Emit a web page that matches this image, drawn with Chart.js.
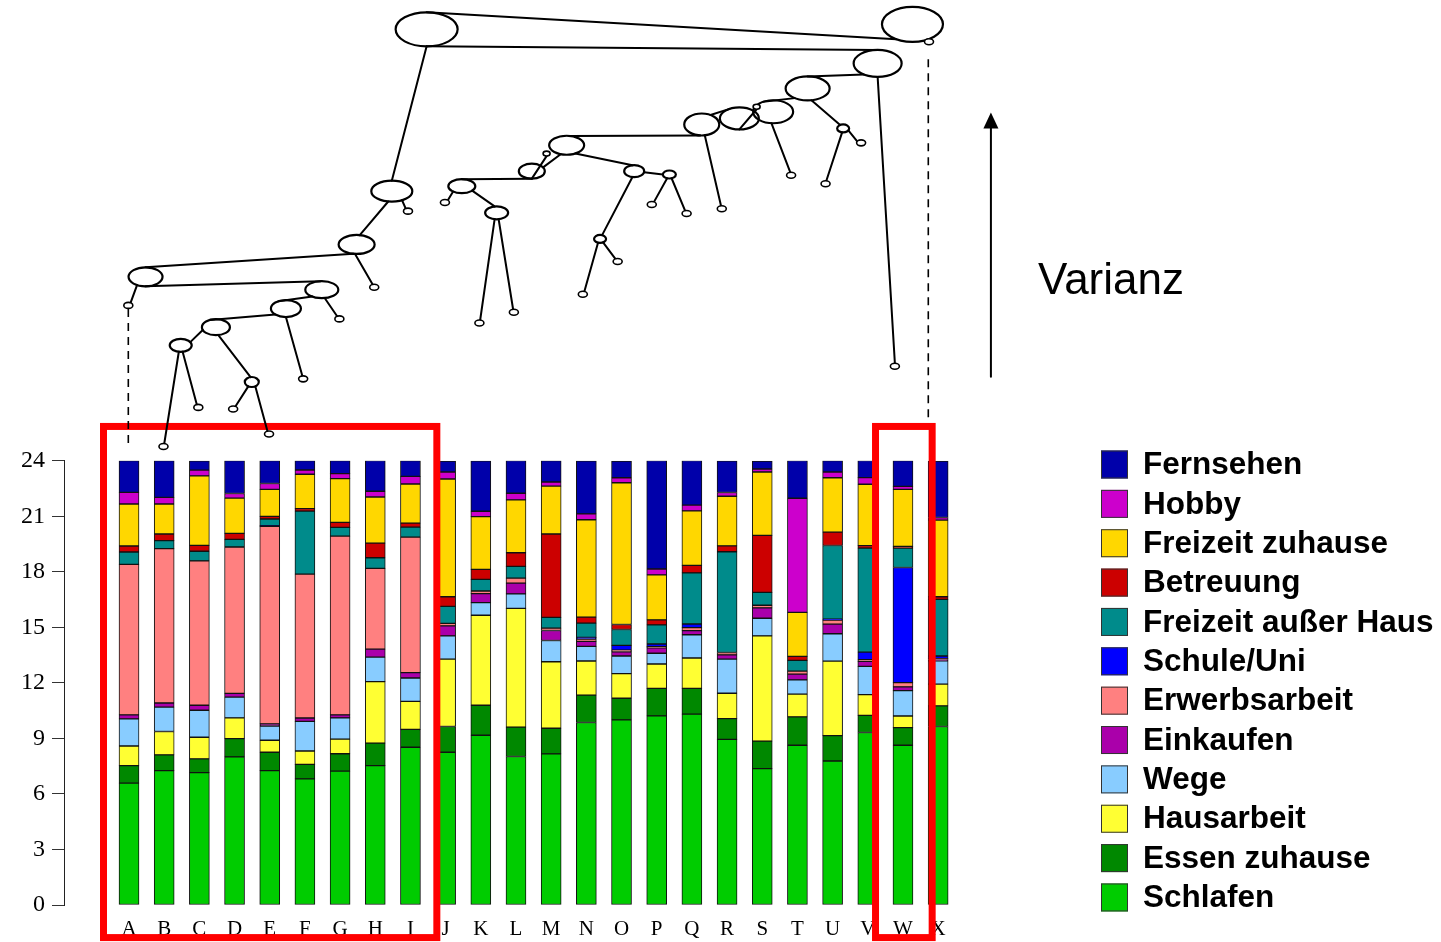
<!DOCTYPE html>
<html>
<head>
<meta charset="utf-8">
<script src="https://cdn.jsdelivr.net/npm/chart.js@4/dist/chart.umd.min.js"></script>
<style>
  html, body { margin: 0; padding: 0; background: #ffffff; }
  #wrap { width: 1441px; height: 942px; position: relative; }
</style>
</head>
<body>
<div id="wrap"><canvas id="c"></canvas></div>
<script>
// ---------------- data ----------------
const categories = ['A','B','C','D','E','F','G','H','I','J','K','L','M','N','O','P','Q','R','S','T','U','V','W','X'];
const yTicks = [0, 3, 6, 9, 12, 15, 18, 21, 24];

const schlafen      = [6.58,7.26,7.15,8.00,7.26,6.81,7.23,7.53,8.52,8.25,9.17,8.02,8.16,9.86,10.00,10.22,10.31,8.95,7.37,8.63,7.78,9.32,8.63,9.64];
const essenZuhause  = [0.95,0.85,0.74,0.99,0.99,0.79,0.94,1.21,0.97,1.39,1.62,1.59,1.39,1.48,1.17,1.48,1.39,1.12,1.48,1.53,1.37,0.92,0.95,1.12];
const hausarbeit    = [1.06,1.26,1.17,1.12,0.65,0.72,0.79,3.33,1.51,3.64,4.86,6.41,3.59,1.84,1.33,1.32,1.64,1.37,5.69,1.23,4.02,1.12,0.63,1.17];
const wege          = [1.46,1.32,1.46,1.12,0.77,1.60,1.15,1.32,1.26,1.26,0.68,0.79,1.15,0.79,0.95,0.58,1.26,1.84,0.95,0.77,1.48,1.53,1.37,1.26];
const einkaufen     = [0.22,0.22,0.27,0.20,0.11,0.18,0.16,0.43,0.29,0.54,0.49,0.58,0.54,0.27,0.23,0.29,0.22,0.23,0.56,0.31,0.52,0.27,0.20,0.07];
const erwerbsarbeit = [8.13,8.34,7.80,7.91,10.67,7.77,9.66,4.36,7.32,0.13,0.14,0.27,0.13,0.13,0.09,0.07,0.16,0.13,0.14,0.16,0.22,0.09,0.23,0.05];
const schuleUni     = [0,0,0,0,0.04,0,0,0,0,0,0,0,0,0.09,0.25,0.14,0.20,0,0,0,0.05,0.41,6.22,0.14];
const freizeitAH    = [0.67,0.43,0.52,0.41,0.36,3.41,0.47,0.58,0.54,0.92,0.63,0.63,0.58,0.77,0.86,1.03,2.76,5.44,0.70,0.58,3.98,5.62,1.05,3.06];
const betreuung     = [0.32,0.36,0.32,0.32,0.14,0.13,0.27,0.79,0.22,0.52,0.54,0.74,4.50,0.32,0.27,0.27,0.41,0.32,3.08,0.22,0.72,0.13,0.09,0.14];
const freizeitZH    = [2.27,1.62,3.75,1.91,1.46,1.86,2.36,2.49,2.11,6.36,2.85,2.85,2.59,5.26,7.66,2.43,2.94,2.68,3.42,2.38,2.94,3.32,3.08,4.14];
const hobby         = [0.63,0.36,0.31,0.25,0.32,0.23,0.27,0.31,0.41,0.38,0.29,0.36,0.22,0.32,0.27,0.32,0.31,0.20,0.16,6.16,0.31,0.36,0.16,0.14];
const fernsehen     = [1.71,1.98,0.50,1.77,1.23,0.50,0.70,1.66,0.85,0.59,2.72,1.77,1.15,2.86,0.90,5.86,2.41,1.71,0.43,2.04,0.61,0.92,1.39,3.05];

const seriesNames = ['Schlafen','Essen zuhause','Hausarbeit','Wege','Einkaufen','Erwerbsarbeit','Schule/Uni','Freizeit außer Haus','Betreuung','Freizeit zuhause','Hobby','Fernsehen'];
const seriesValues = [schlafen,essenZuhause,hausarbeit,wege,einkaufen,erwerbsarbeit,schuleUni,freizeitAH,betreuung,freizeitZH,hobby,fernsehen];
const seriesColors = ['#00cc00','#008800','#ffff33','#88ccff','#aa00aa','#ff8080','#0000ff','#008b8b','#cc0000','#ffd700','#cc00cc','#0000aa'];

// Cluster highlight boxes (category-axis units / hour units)
const clusterBoxes = [
  { x0: -0.725, x1: 8.75, y0: 25.85, y1: -1.76 },
  { x0: 21.22, x1: 22.83, y0: 25.85, y1: -1.76 }
];

// Dendrogram (x in category units, y in hour-scale units above the plot); radii in px
const dNodes = {
  NR:[22.27,47.57,30.5,17.5], N1:[8.46,47.30,31,17], N2:[7.47,38.56,20.5,10.5], N3:[6.47,35.68,18,9.5],
  N4:[0.47,33.93,17,9.5], N5:[5.48,33.24,16.5,8.5], N6:[4.46,32.22,15,8.5], N7:[2.47,31.21,14,8],
  N8:[1.47,30.23,11,6.5], N9:[3.49,28.25,7,5], N10:[21.28,45.46,24,13.5], N11:[19.29,44.11,22,12],
  N12:[20.30,41.95,6,4], N13:[18.31,42.85,20,11.5], N14:[17.35,42.49,19.5,11], N15:[16.28,42.16,17.5,11],
  N16:[9.46,38.83,13.5,7], N17:[10.45,37.39,11.5,6.5], N18:[11.45,39.64,13,7.5], N19:[12.44,41.04,17.5,9.5],
  N20:[14.36,39.64,10,6], N21:[15.36,39.46,6.5,4], N22:[13.39,35.98,6,4],
  T1:[11.87,40.59,3.5,2.5], T2:[17.84,43.12,3.5,2.5],
  LA:[-0.02,32.39,4.5,3], LB:[0.98,24.77,4.5,3], LC:[1.97,26.88,4.5,3], LD:[2.96,26.79,4.5,3],
  LE:[3.98,25.44,4.5,3], LF:[4.95,28.42,4.5,3], LG:[5.98,31.66,4.5,3], LH:[6.97,33.37,4.5,3],
  LI:[7.93,37.48,4.5,3], LJ:[8.98,37.95,4.5,3], LK:[9.96,31.44,4.5,3], LL:[10.94,32.02,4.5,3],
  LN:[12.90,32.99,4.5,3], LO:[13.89,34.76,4.5,3], LP:[14.86,37.84,4.5,3], LQ:[15.85,37.35,4.5,3],
  LR:[16.85,37.61,4.5,3], LT:[18.82,39.42,4.5,3], LU:[19.80,38.96,4.5,3], LV:[20.81,41.17,4.5,3],
  LW:[21.77,29.10,4.5,3], LX:[22.74,46.63,4.5,3]
};
const dEdges = [
  ['N1',-90,'NR',122],['N1',90,'N10',-90],['N1',90,'N2',-90],['N2',100,'N3',-80],['N2',60,'LI',-120],
  ['N3',95,'LH',-110],['N4',-90,'N3',100],['N4',90,'N5',-95],['N4',120,'LA',-60],['N5',80,'LG',-120],
  ['N5',125,'N6',-120],['N6',90,'LF',-100],['N6',135,'N7',-115],['N7',160,'N8',-30],['N7',80,'N9',-100],
  ['N8',80,'LC',-110],['N8',100,'LB',-80],['N9',120,'LD',-60],['N9',60,'LE',-110],
  ['N10',90,'LW',-90],['N10',125,'N11',-90],['N11',80,'N12',-120],['N11',126,'N13',-120],
  ['N12',30,'LV',-150],['N12',100,'LU',-80],['N13',95,'LT',-100],['T2',90,'N14',90],['N14',-120,'N15',-60],
  ['N15',80,'LR',-100],['N15',95,'N19',-80],['N18',90,'T1',90],['N18',-30,'N19',110],['N19',60,'N20',-100],
  ['N16',-90,'N18',90],['N16',130,'LJ',-50],['N16',40,'N17',-100],['N17',100,'LK',-80],['N17',80,'LL',-100],
  ['N20',10,'N21',180],['N20',100,'N22',-70],['N22',110,'LN',-70],['N22',60,'LO',-120],
  ['N21',110,'LP',-60],['N21',70,'LQ',-110]
];
const dDashed = [ [-0.02, 32.20, 24.86], [22.72, 45.68, 26.22] ];
const varianzArrow = { x: 24.50, yFrom: 28.54, yTo: 42.81, textX: 25.84, textY: 33.03, label: 'Varianz' };

// ---------------- datasets ----------------
const datasets = seriesNames.map((name, s) => ({
  label: name,
  data: seriesValues[s].map((v, i) => ({ x: i, y: v })),
  backgroundColor: seriesColors[s],
  borderColor: '#111111',
  borderWidth: 1,
  borderSkipped: false,
  barThickness: 20
}));

// ---------------- plugins ----------------
const overlayPlugin = {
  id: 'overlay',
  afterDraw(chart) {
    const ctx = chart.ctx;
    const xs = chart.scales.x, ys = chart.scales.y;
    const X = v => xs.getPixelForValue(v), Y = v => ys.getPixelForValue(v);
    ctx.save();

    // red cluster boxes
    ctx.strokeStyle = '#ff0000';
    ctx.lineWidth = 7;
    clusterBoxes.forEach(b => {
      ctx.strokeRect(X(b.x0), Y(b.y0), X(b.x1) - X(b.x0), Y(b.y1) - Y(b.y0));
    });

    // dashed connectors
    ctx.strokeStyle = '#000';
    ctx.lineWidth = 1.6;
    ctx.setLineDash([8, 6]);
    dDashed.forEach(d => {
      ctx.beginPath();
      ctx.moveTo(X(d[0]), Y(d[1]));
      ctx.lineTo(X(d[0]), Y(d[2]));
      ctx.stroke();
    });
    ctx.setLineDash([]);

    // dendrogram edges
    const anchor = (id, deg) => {
      const n = dNodes[id];
      const a = deg * Math.PI / 180;
      return [X(n[0]) + n[2] * Math.cos(a), Y(n[1]) + n[3] * Math.sin(a)];
    };
    ctx.lineWidth = 2;
    ctx.lineCap = 'round';
    dEdges.forEach(e => {
      const p = anchor(e[0], e[1]), q = anchor(e[2], e[3]);
      ctx.beginPath();
      ctx.moveTo(p[0], p[1]);
      ctx.lineTo(q[0], q[1]);
      ctx.stroke();
    });
    // dendrogram nodes
    Object.keys(dNodes).forEach(id => {
      const n = dNodes[id];
      ctx.beginPath();
      ctx.ellipse(X(n[0]), Y(n[1]), n[2], n[3], 0, 0, Math.PI * 2);
      if (n[2] < 5) { ctx.fillStyle = '#fff'; ctx.fill(); ctx.lineWidth = 1.6; }
      else { ctx.lineWidth = 2.2; }
      ctx.stroke();
    });

    // Varianz arrow + label
    const ax = X(varianzArrow.x);
    const yb = Y(varianzArrow.yFrom), yt = Y(varianzArrow.yTo);
    ctx.lineWidth = 2;
    ctx.beginPath();
    ctx.moveTo(ax, yb);
    ctx.lineTo(ax, yt + 14);
    ctx.stroke();
    ctx.fillStyle = '#000';
    ctx.beginPath();
    ctx.moveTo(ax, yt);
    ctx.lineTo(ax - 7.5, yt + 16);
    ctx.lineTo(ax + 7.5, yt + 16);
    ctx.closePath();
    ctx.fill();
    ctx.font = '44px "Liberation Sans", Arial, sans-serif';
    ctx.textAlign = 'left';
    ctx.textBaseline = 'alphabetic';
    ctx.fillText(varianzArrow.label, X(varianzArrow.textX), Y(varianzArrow.textY));

    // legend (top = last dataset)
    const ds = chart.data.datasets.slice().reverse();
    const boxX = 1101, firstY = 464.5, step = 39.36, bw = 27, bh = 28;
    ctx.font = 'bold 31.5px "Liberation Sans", Arial, sans-serif';
    ctx.textBaseline = 'middle';
    ds.forEach((d, k) => {
      const cy = firstY + k * step;
      ctx.fillStyle = d.backgroundColor;
      ctx.fillRect(boxX, cy - bh / 2, bw, bh);
      ctx.strokeStyle = '#333';
      ctx.lineWidth = 1;
      ctx.strokeRect(boxX + 0.5, cy - bh / 2 + 0.5, bw - 1, bh - 1);
      ctx.fillStyle = '#000';
      ctx.fillText(d.label, 1143, cy + 1);
    });

    ctx.restore();
  }
};

// ---------------- chart ----------------
new Chart(document.getElementById('c'), {
  type: 'bar',
  data: { datasets },
  options: {
    responsive: true,
    maintainAspectRatio: false,
    animation: false,
    layout: { padding: { left: 0, top: 460.7, right: 491, bottom: 0 } },
    plugins: { legend: { display: false }, tooltip: { enabled: false }, title: { display: false } },
    scales: {
      x: {
        type: 'linear',
        stacked: true,
        offset: false,
        min: -1.848,
        max: 23.337,
        grid: { display: false, offset: false },
        border: { display: false },
        afterBuildTicks: s => { s.ticks = categories.map((c, i) => ({ value: i })); },
        afterFit: s => { s.height = 37; },
        ticks: {
          autoSkip: false,
          maxRotation: 0,
          padding: 4,
          color: '#000',
          font: { family: '"Liberation Serif", "Times New Roman", serif', size: 21 },
          callback: v => categories[v] !== undefined ? categories[v] : ''
        }
      },
      y: {
        stacked: true,
        min: 0,
        max: 24,
        afterBuildTicks: s => { s.ticks = yTicks.map(v => ({ value: v })); },
        afterFit: s => { s.width = 64; },
        grid: { display: true, drawOnChartArea: false, drawTicks: true, tickLength: 12, color: '#333' },
        border: { display: true, color: '#222', width: 1 },
        ticks: {
          padding: 7,
          color: '#000',
          font: { family: '"Liberation Serif", "Times New Roman", serif', size: 24 }
        }
      }
    }
  },
  plugins: [overlayPlugin]
});
</script>
</body>
</html>
